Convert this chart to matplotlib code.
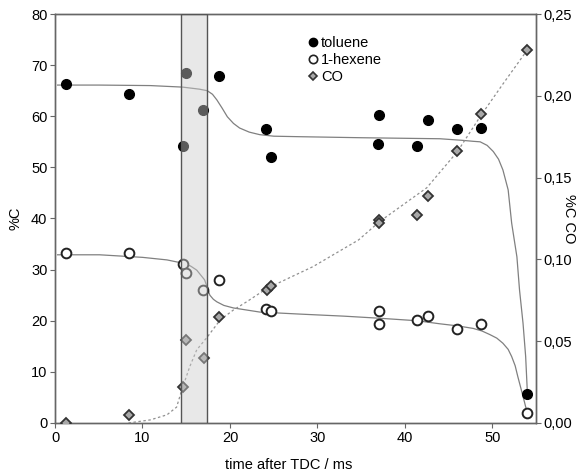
import matplotlib
matplotlib.use("Agg")
import matplotlib.pyplot as plt
from matplotlib.ticker import FuncFormatter
from matplotlib.lines import Line2D

plt.rcParams['font.family'] = ['Liberation Sans', 'DejaVu Sans']

# measured points (%C, left axis)
tol_t = [1.2, 8.5, 14.6, 15.0, 16.9, 18.8, 24.1, 24.7, 37.0, 36.9, 41.4, 42.6, 46.0, 48.7, 54.0]
tol_y = [66.3, 64.4, 54.2, 68.5, 61.3, 67.9, 57.5, 52.0, 60.3, 54.6, 54.2, 59.3, 57.5, 57.7, 5.7]

hex_t = [1.2, 8.5, 14.6, 15.0, 16.9, 18.8, 24.1, 24.7, 37.0, 37.0, 41.4, 42.6, 46.0, 48.7, 54.0]
hex_y = [33.3, 33.3, 31.1, 29.4, 26.0, 28.0, 22.3, 21.9, 21.9, 19.4, 20.1, 20.9, 18.4, 19.4, 2.0]

# CO (right axis)
co_t = [1.2, 8.5, 14.6, 15.0, 17.0, 18.8, 24.2, 24.7, 37.0, 37.0, 41.4, 42.6, 46.0, 48.7, 54.0]
co_y = [0.000, 0.005, 0.022, 0.051, 0.040, 0.065, 0.081, 0.084, 0.124, 0.122, 0.127, 0.139, 0.166, 0.189, 0.228]

# fitted curves
tol_fit_t = [0.3, 5.0, 10.9, 14.6, 16.5, 17.4, 18.0, 18.5, 19.1, 19.7, 20.4, 21.1, 22.2, 23.4, 25.0,
             28.0, 35.0, 44.0, 46.5, 47.8, 48.6, 49.4, 50.1, 50.7, 51.2, 51.8, 52.2, 52.8, 53.1, 53.5,
             53.8, 54.0]
tol_fit_y = [66.1, 66.1, 66.0, 65.7, 65.3, 65.0, 64.3, 63.2, 61.6, 59.9, 58.6, 57.7, 56.9, 56.4, 56.1,
             56.0, 55.8, 55.6, 55.3, 55.1, 55.0, 54.3, 53.1, 51.6, 49.5, 45.6, 39.1, 32.5, 26.0, 19.5,
             13.0, 5.8]

hex_fit_t = [0.3, 5.1, 10.0, 12.8, 14.5, 15.5, 16.2, 17.1, 17.7, 18.1, 18.5, 19.3, 20.4, 23.4, 28.0,
             33.0, 37.0, 41.4, 44.0, 46.0, 47.8, 48.8, 49.7, 50.5, 51.2, 51.8, 52.2, 52.6, 52.9, 53.5,
             53.9]
hex_fit_y = [32.9, 32.9, 32.4, 31.9, 31.3, 30.7, 29.9, 28.0, 25.0, 24.2, 23.7, 23.0, 22.5, 21.7, 21.3,
             20.9, 20.5, 20.0, 19.4, 19.0, 18.5, 18.0, 17.3, 16.6, 15.6, 14.4, 13.0, 11.2, 9.1, 5.2,
             2.5]

co_fit_t = [8.4, 10.9, 12.8, 13.9, 14.5, 15.4, 16.2, 17.4, 18.9, 20.4, 22.0, 24.2, 29.5, 34.7, 37.1,
            42.5, 46.0, 48.7, 51.2, 54.0]
co_fit_y = [0.0000, 0.0019, 0.0050, 0.0097, 0.0203, 0.0344, 0.0447, 0.0525, 0.0631, 0.0691, 0.0744,
            0.0822, 0.0956, 0.1119, 0.1231, 0.1438, 0.1659, 0.1881, 0.2072, 0.2281]

band = (14.4, 17.4)

spine_c = '#666666'
fs = 10.5

fig = plt.figure(figsize=(5.79, 4.75), dpi=100)
ax = fig.add_axes([0.095, 0.1095, 0.831, 0.861])
ax2 = ax.twinx()

ax.plot(tol_fit_t, tol_fit_y, color='#808080', lw=0.9, zorder=2)
ax.plot(hex_fit_t, hex_fit_y, color='#808080', lw=0.9, zorder=2)
ax.plot(tol_t, tol_y, 'o', ms=7, mfc='black', mec='black', zorder=3)
ax.plot(hex_t, hex_y, 'o', ms=7, mfc='white', mec='#222222', mew=1.4, zorder=3)

ax2.plot(co_fit_t, co_fit_y, color='#909090', lw=0.9, ls=(0, (2, 2)), zorder=2)
ax2.plot(co_t, co_y, 'D', ms=5.5, mfc='#a8a8a8', mec='#333333', mew=1.3, zorder=3)

# shaded window drawn over the points
ax2.axvspan(band[0], band[1], facecolor=(0.8, 0.8, 0.8, 0.45), edgecolor='#555555', lw=1.0, zorder=5)

ax.set_xlim(0, 55)
ax.set_ylim(0, 80)
ax2.set_ylim(0, 0.25)
ax.set_xticks(range(0, 51, 10))
ax.set_yticks(range(0, 81, 10))
ax2.set_yticks([0, 0.05, 0.10, 0.15, 0.20, 0.25])
ax2.yaxis.set_major_formatter(FuncFormatter(lambda v, p: f"{v:.2f}".replace('.', ',')))

for a in (ax, ax2):
    for s in a.spines.values():
        s.set_color(spine_c)
        s.set_linewidth(1.0)
    a.tick_params(direction='out', length=3.5, width=0.8, color=spine_c, labelsize=fs, pad=2)

ax.set_xlabel('time after TDC / ms', fontsize=fs, va='center')
ax.xaxis.set_label_coords(0.485, -0.103)
ax.set_ylabel('%C', fontsize=fs, va='center')
ax.yaxis.set_label_coords(-0.083, 0.5)
ax2.set_ylabel('%C CO', fontsize=fs, rotation=270, va='center', ha='center')
ax2.yaxis.set_label_coords(1.069, 0.5)

handles = [
    Line2D([], [], ls='none', marker='o', ms=6, mfc='black', mec='black'),
    Line2D([], [], ls='none', marker='o', ms=6, mfc='white', mec='#222222', mew=1.2),
    Line2D([], [], ls='none', marker='D', ms=4.5, mfc='#a8a8a8', mec='#333333', mew=1.2),
]
leg = ax2.legend(handles, ['toluene', '1-hexene', 'CO'], loc='upper left',
                 bbox_to_anchor=(0.503, 0.972), frameon=False, fontsize=fs,
                 handlelength=0.8, handletextpad=0.15, labelspacing=0.22, borderpad=0.2)
leg.set_zorder(6)

fig.savefig('out.png', dpi=100)
